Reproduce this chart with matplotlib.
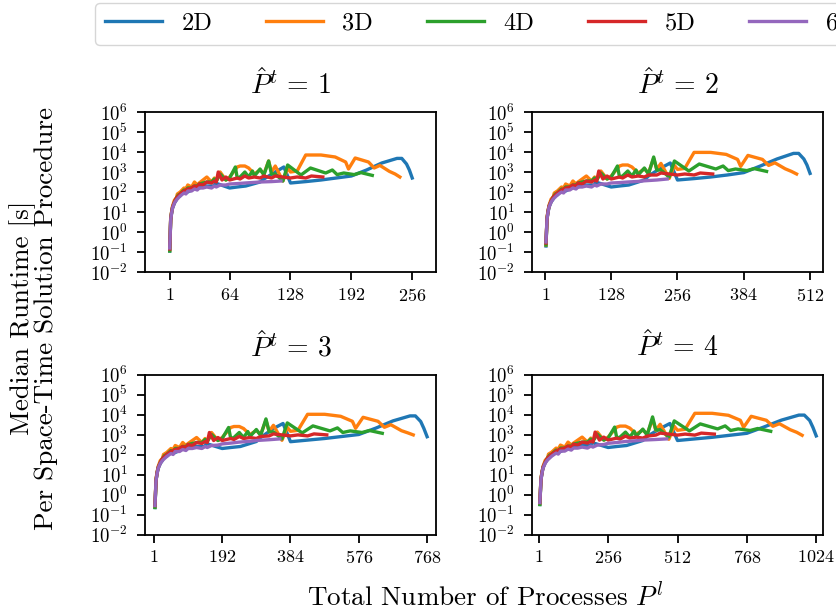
import numpy as np
import matplotlib
matplotlib.use("Agg")
import matplotlib.pyplot as plt
from matplotlib.lines import Line2D

plt.rcParams["font.family"] = "serif"
plt.rcParams["font.serif"] = ["cmr10", "DejaVu Serif"]
plt.rcParams["mathtext.fontset"] = "cm"
plt.rcParams["axes.formatter.use_mathtext"] = True
plt.rcParams["axes.unicode_minus"] = False

# ---------------- data ----------------
PT_VALUES = [1, 2, 3, 4]
DIMENSIONS = ["2D", "3D", "4D", "5D", "6D"]
COLORS = ["#1f77b4", "#ff7f0e", "#2ca02c", "#d62728", "#9467bd"]

# spatial process counts per dimension (total processes = P^t * spatial)
X_2D = [1, 2, 3, 4, 6, 8, 9, 12, 16, 18, 24, 25, 32, 36, 48, 49, 64, 72, 81, 96, 100,
        112, 121, 128, 144, 160, 176, 192, 208, 224, 240, 245, 250, 253, 256]
X_3D = [1, 2, 3, 4, 6, 8, 9, 12, 16, 18, 20, 24, 27, 30, 32, 36, 40, 45, 48, 50, 54, 60,
        64, 72, 75, 80, 84, 90, 96, 100, 105, 108, 112, 120, 125, 128, 135, 144, 160, 175,
        186, 189, 196, 210, 216, 222, 232, 238, 243]
X_4D = [1, 2, 3, 4, 6, 8, 10, 12, 16, 18, 20, 24, 27, 30, 32, 36, 40, 45, 48, 50, 54, 60,
        64, 70, 72, 75, 80, 84, 88, 90, 96, 100, 105, 108, 112, 120, 125, 139, 149, 165,
        172, 177, 184, 195, 202, 214]
X_5D = [1, 2, 3, 4, 6, 8, 10, 12, 16, 20, 24, 27, 30, 32, 36, 40, 45, 48, 50, 52, 56, 60,
        64, 72, 75, 80, 84, 90, 96, 100, 108, 112, 120, 128, 135, 144, 150, 162]
X_6D = [1, 2, 3, 4, 6, 8, 10, 12, 16, 18, 20, 24, 27, 30, 32, 36, 40, 45, 48, 50, 54, 60,
        64, 72, 80, 90, 96, 108, 118]

# median runtimes, stored as log10(seconds), one list per dimension and P^t
LOG_RT_2D_PT1 = [-0.95, 0.6, 0.95, 1.2, 1.45, 1.6, 1.75, 1.8, 2.05, 1.95, 2.1, 2.25, 2.2, 2.3, 2.3, 2.45, 2.2, 2.25, 2.3, 2.5, 2.65, 3.0, 3.25, 2.45, 2.52, 2.6, 2.7, 2.8, 3.1, 3.45, 3.68, 3.68, 3.4, 3.1, 2.7]
LOG_RT_2D_PT2 = [-0.7, 0.65, 1.0, 1.25, 1.5, 1.65, 1.8, 1.85, 2.1, 2.0, 2.15, 2.3, 2.25, 2.35, 2.35, 2.5, 2.25, 2.3, 2.35, 2.6, 2.8, 3.2, 3.45, 2.6, 2.67, 2.75, 2.85, 2.97, 3.3, 3.65, 3.93, 3.93, 3.65, 3.35, 2.93]
LOG_RT_2D_PT3 = [-0.65, 0.7, 1.05, 1.3, 1.55, 1.7, 1.85, 1.9, 2.15, 2.05, 2.2, 2.35, 2.3, 2.4, 2.4, 2.55, 2.3, 2.35, 2.4, 2.65, 2.85, 3.3, 3.55, 2.64, 2.72, 2.8, 2.9, 3.0, 3.32, 3.68, 3.93, 3.93, 3.65, 3.3, 2.89]
LOG_RT_2D_PT4 = [-0.5, 0.75, 1.1, 1.35, 1.6, 1.75, 1.9, 1.95, 2.2, 2.1, 2.25, 2.4, 2.35, 2.45, 2.45, 2.6, 2.35, 2.4, 2.45, 2.7, 2.9, 3.3, 3.55, 2.7, 2.78, 2.86, 2.96, 3.06, 3.38, 3.72, 3.97, 3.97, 3.7, 3.35, 2.93]

LOG_RT_3D_PT1 = [-0.9, 0.7, 1.0, 1.3, 1.6, 1.7, 1.9, 2.0, 2.2, 2.15, 2.35, 2.25, 2.5, 2.35, 2.45, 2.6, 2.75, 2.5, 2.7, 2.55, 3.0, 2.6, 2.75, 3.25, 3.3, 3.3, 3.2, 2.9, 3.1, 2.9, 3.55, 3.0, 3.3, 2.55, 3.2, 3.0, 3.05, 3.85, 3.85, 3.75, 3.5, 3.15, 3.7, 3.5, 3.2, 3.33, 3.03, 2.9, 2.75]
LOG_RT_3D_PT2 = [-0.65, 0.75, 1.05, 1.35, 1.65, 1.75, 1.95, 2.05, 2.25, 2.2, 2.4, 2.3, 2.55, 2.4, 2.5, 2.65, 2.8, 2.55, 2.75, 2.6, 3.05, 2.65, 2.8, 3.3, 3.35, 3.35, 3.25, 2.95, 3.15, 2.95, 3.68, 3.13, 3.43, 2.68, 3.33, 3.13, 3.18, 3.98, 3.98, 3.88, 3.63, 3.28, 3.83, 3.63, 3.33, 3.46, 3.16, 3.03, 2.9]
LOG_RT_3D_PT3 = [-0.6, 0.8, 1.1, 1.4, 1.7, 1.8, 2.0, 2.1, 2.3, 2.25, 2.45, 2.35, 2.6, 2.45, 2.55, 2.7, 2.85, 2.6, 2.8, 2.65, 3.1, 2.7, 2.85, 3.35, 3.4, 3.4, 3.3, 3.0, 3.2, 3.0, 3.71, 3.16, 3.46, 2.71, 3.36, 3.16, 3.21, 4.01, 4.01, 3.91, 3.66, 3.31, 3.86, 3.66, 3.36, 3.49, 3.19, 3.08, 2.98]
LOG_RT_3D_PT4 = [-0.45, 0.82, 1.12, 1.42, 1.72, 1.82, 2.02, 2.12, 2.32, 2.27, 2.47, 2.37, 2.62, 2.47, 2.57, 2.72, 2.87, 2.62, 2.82, 2.67, 3.12, 2.72, 2.87, 3.37, 3.42, 3.42, 3.32, 3.02, 3.22, 3.02, 3.76, 3.21, 3.51, 2.76, 3.41, 3.21, 3.26, 4.06, 4.06, 3.96, 3.71, 3.36, 3.91, 3.71, 3.41, 3.54, 3.24, 3.11, 2.96]

LOG_RT_4D_PT1 = [-0.95, 0.6, 1.0, 1.25, 1.5, 1.7, 1.85, 1.9, 2.1, 2.05, 2.2, 2.2, 2.3, 2.3, 2.4, 2.45, 2.5, 2.5, 2.65, 2.55, 2.9, 2.6, 2.7, 3.25, 2.7, 2.75, 3.0, 2.75, 3.05, 2.8, 3.15, 2.85, 3.55, 2.9, 2.9, 2.55, 3.35, 2.85, 3.2, 2.95, 3.1, 2.87, 2.95, 2.87, 2.97, 2.83]
LOG_RT_4D_PT2 = [-0.65, 0.65, 1.05, 1.3, 1.55, 1.75, 1.9, 1.95, 2.15, 2.1, 2.25, 2.25, 2.35, 2.35, 2.45, 2.5, 2.55, 2.55, 2.7, 2.6, 2.95, 2.65, 2.75, 3.3, 2.75, 2.8, 3.05, 2.8, 3.1, 2.85, 3.2, 2.9, 3.75, 3.1, 3.1, 2.75, 3.55, 3.05, 3.4, 3.15, 3.3, 3.07, 3.15, 3.07, 3.17, 3.03]
LOG_RT_4D_PT3 = [-0.65, 0.7, 1.1, 1.35, 1.6, 1.8, 1.95, 2.0, 2.2, 2.15, 2.3, 2.3, 2.4, 2.4, 2.5, 2.55, 2.6, 2.6, 2.75, 2.65, 3.0, 2.7, 2.8, 3.35, 2.8, 2.85, 3.1, 2.85, 3.15, 2.9, 3.25, 2.95, 3.78, 3.13, 3.13, 2.78, 3.58, 3.08, 3.43, 3.18, 3.33, 3.1, 3.18, 3.1, 3.2, 3.06]
LOG_RT_4D_PT4 = [-0.5, 0.72, 1.12, 1.37, 1.62, 1.82, 1.97, 2.02, 2.22, 2.17, 2.32, 2.32, 2.42, 2.42, 2.52, 2.57, 2.62, 2.62, 2.77, 2.67, 3.02, 2.72, 2.82, 3.37, 2.82, 2.87, 3.12, 2.87, 3.17, 2.92, 3.27, 2.97, 3.88, 3.23, 3.23, 2.88, 3.68, 3.18, 3.53, 3.28, 3.43, 3.2, 3.28, 3.2, 3.3, 3.16]

LOG_RT_5D_PT1 = [-0.85, 0.6, 1.0, 1.25, 1.5, 1.7, 1.8, 1.9, 2.05, 2.15, 2.2, 2.3, 2.25, 2.4, 2.35, 2.5, 2.45, 2.55, 2.5, 3.0, 2.6, 2.75, 2.6, 2.7, 2.65, 2.8, 2.7, 2.75, 2.7, 2.8, 2.7, 2.8, 2.75, 2.7, 2.75, 2.7, 2.8, 2.75]
LOG_RT_5D_PT2 = [-0.55, 0.65, 1.05, 1.3, 1.55, 1.75, 1.85, 1.95, 2.1, 2.2, 2.25, 2.35, 2.3, 2.45, 2.4, 2.55, 2.5, 2.6, 2.55, 3.05, 2.65, 2.8, 2.65, 2.75, 2.7, 2.85, 2.75, 2.8, 2.75, 2.85, 2.85, 2.95, 2.9, 2.85, 2.9, 2.85, 2.95, 2.9]
LOG_RT_5D_PT3 = [-0.55, 0.7, 1.1, 1.35, 1.6, 1.8, 1.9, 2.0, 2.15, 2.25, 2.3, 2.4, 2.35, 2.5, 2.45, 2.6, 2.55, 2.65, 2.6, 3.1, 2.7, 2.85, 2.7, 2.8, 2.75, 2.9, 2.8, 2.85, 2.8, 2.9, 2.93, 3.03, 2.98, 2.93, 2.98, 2.93, 3.03, 2.98]
LOG_RT_5D_PT4 = [-0.4, 0.72, 1.12, 1.37, 1.62, 1.82, 1.92, 2.02, 2.17, 2.27, 2.32, 2.42, 2.37, 2.52, 2.47, 2.62, 2.57, 2.67, 2.62, 3.12, 2.72, 2.87, 2.72, 2.82, 2.77, 2.92, 2.82, 2.87, 2.82, 2.92, 2.97, 3.07, 3.02, 2.97, 3.02, 2.97, 3.07, 3.02]

LOG_RT_6D_PT1 = [-0.8, 0.6, 0.95, 1.2, 1.45, 1.6, 1.7, 1.8, 1.95, 1.9, 2.05, 2.05, 2.15, 2.1, 2.2, 2.2, 2.25, 2.2, 2.3, 2.25, 2.35, 2.35, 2.4, 2.42, 2.45, 2.48, 2.5, 2.52, 2.55]
LOG_RT_6D_PT2 = [-0.5, 0.65, 1.0, 1.25, 1.5, 1.65, 1.75, 1.85, 2.0, 1.95, 2.1, 2.1, 2.2, 2.15, 2.25, 2.25, 2.3, 2.25, 2.35, 2.3, 2.4, 2.4, 2.45, 2.47, 2.5, 2.53, 2.56, 2.6, 2.65]
LOG_RT_6D_PT3 = [-0.55, 0.7, 1.05, 1.3, 1.55, 1.7, 1.8, 1.9, 2.05, 2.0, 2.15, 2.15, 2.25, 2.2, 2.3, 2.3, 2.35, 2.3, 2.4, 2.35, 2.45, 2.47, 2.53, 2.57, 2.62, 2.66, 2.7, 2.74, 2.78]
LOG_RT_6D_PT4 = [-0.4, 0.72, 1.07, 1.32, 1.57, 1.72, 1.82, 1.92, 2.07, 2.02, 2.17, 2.17, 2.27, 2.22, 2.32, 2.32, 2.37, 2.32, 2.42, 2.37, 2.47, 2.5, 2.56, 2.6, 2.65, 2.69, 2.72, 2.75, 2.78]

X_BY_DIM = [X_2D, X_3D, X_4D, X_5D, X_6D]
LOG_RT = [
    [LOG_RT_2D_PT1, LOG_RT_3D_PT1, LOG_RT_4D_PT1, LOG_RT_5D_PT1, LOG_RT_6D_PT1],
    [LOG_RT_2D_PT2, LOG_RT_3D_PT2, LOG_RT_4D_PT2, LOG_RT_5D_PT2, LOG_RT_6D_PT2],
    [LOG_RT_2D_PT3, LOG_RT_3D_PT3, LOG_RT_4D_PT3, LOG_RT_5D_PT3, LOG_RT_6D_PT3],
    [LOG_RT_2D_PT4, LOG_RT_3D_PT4, LOG_RT_4D_PT4, LOG_RT_5D_PT4, LOG_RT_6D_PT4],
]
Y_TICKS = [1e-2, 1e-1, 1e0, 1e1, 1e2, 1e3, 1e4, 1e5, 1e6]
MAX_SPATIAL = 256

# ---------------- figure ----------------
W, H = 837, 614
fig = plt.figure(figsize=(W / 100, H / 100), dpi=100)

def frac_rect(left, top, right, bottom):
    return [left / W, 1 - bottom / H, (right - left) / W, (bottom - top) / H]

rects = [frac_rect(145, 112, 436, 272), frac_rect(532, 112, 823, 272),
         frac_rect(145, 374.5, 436, 534.5), frac_rect(532, 374.5, 823, 534.5)]

for i, pt in enumerate(PT_VALUES):
    ax = fig.add_axes(rects[i])
    for d in range(len(DIMENSIONS)):
        xs = pt * np.array(X_BY_DIM[d])
        ys = 10.0 ** np.array(LOG_RT[i][d])
        ax.plot(xs, ys, color=COLORS[d], lw=2.4, solid_joinstyle="round")
    ax.set_yscale("log")
    ax.set_ylim(1e-2, 1e6)
    ax.set_yticks(Y_TICKS)
    ax.yaxis.set_minor_locator(matplotlib.ticker.NullLocator())
    top_x = pt * MAX_SPATIAL
    ax.set_xticks([1] + [top_x * k // 4 for k in range(1, 5)])
    ax.set_xlim(-25, top_x + 25)
    ax.tick_params(axis="both", direction="out", length=5.5, width=1.3)
    ax.tick_params(axis="x", pad=5, labelsize=13)
    ax.tick_params(axis="y", pad=7, labelsize=13.5)
    for sp in ax.spines.values():
        sp.set_linewidth(1.3)
        sp.set_color("black")
    ax.set_title(r"$\hat{P}^t\,=\,%d$" % pt, fontsize=20, pad=13)

handles = [Line2D([0], [0], color=c, lw=2.4) for c in COLORS]
leg = fig.legend(handles, DIMENSIONS, loc="upper left",
                 bbox_to_anchor=(95 / W, 1 - 3 / H), ncol=5, fontsize=17.6,
                 handlelength=2.33, handletextpad=0.8, columnspacing=2.2,
                 borderaxespad=0, frameon=True, fancybox=True)

fig.text(34 / W, 1 - 318 / H, "Median Runtime [s]\nPer Space-Time Solution Procedure",
         rotation=90, ha="center", va="center", multialignment="center",
         fontsize=19.5, linespacing=0.9)
fig.text(485 / W, 1 - 597 / H, r"Total Number of Processes $P^l$",
         ha="center", va="center", fontsize=19.5)

fig.savefig("out.png", dpi=100)
